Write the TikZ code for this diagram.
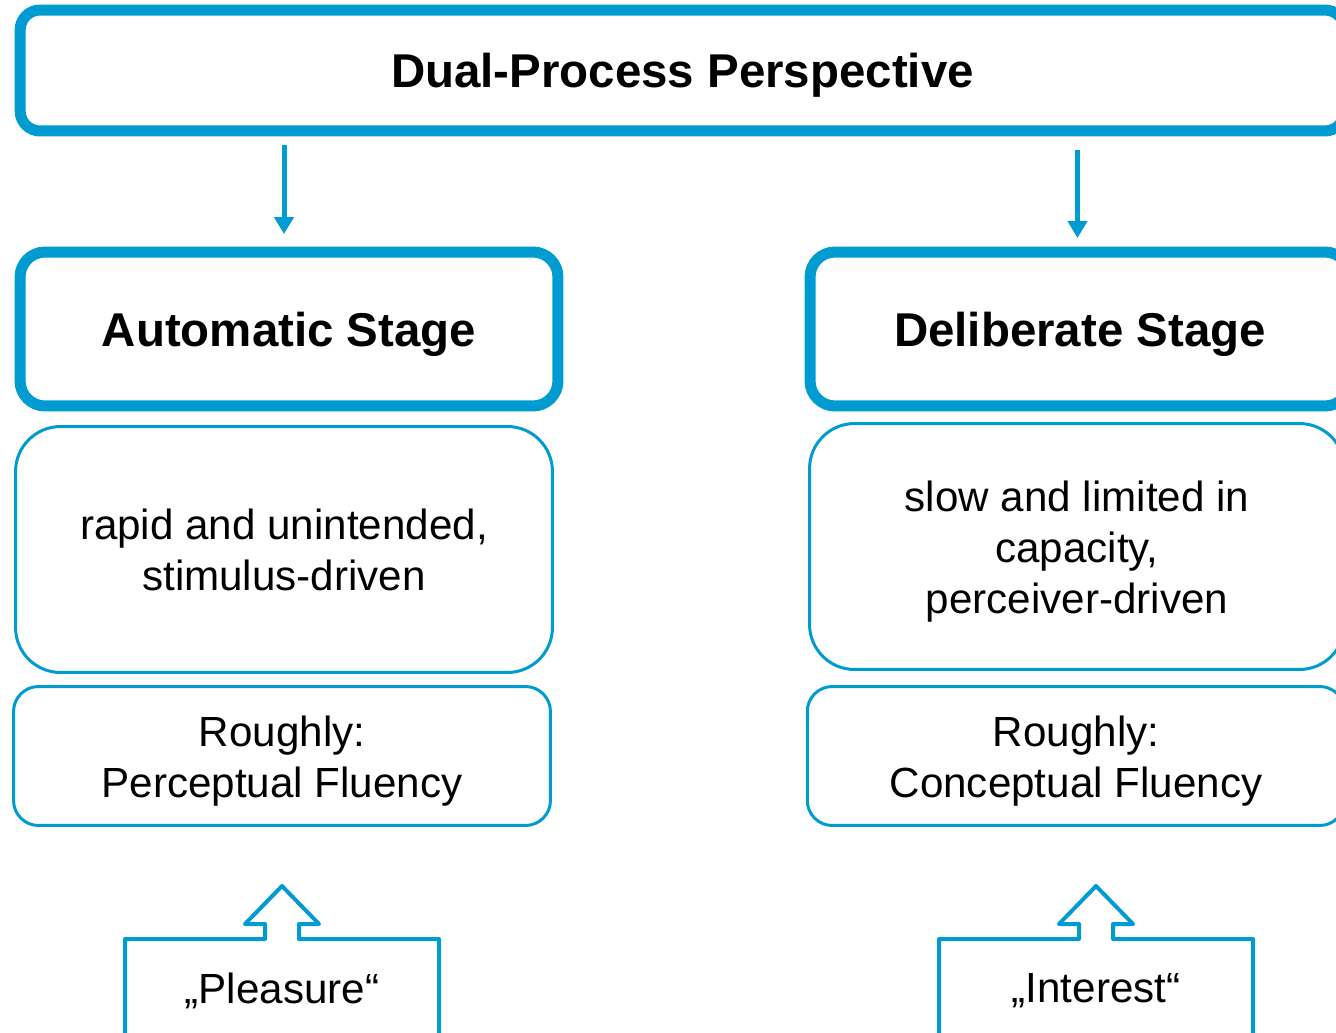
\documentclass[tikz,border=0pt]{standalone}
\usepackage{fontspec}
\setmainfont{Liberation Sans}
\usepackage{xcolor}
\usetikzlibrary{positioning,arrows.meta,calc}
\definecolor{dpblue}{RGB}{0,156,209}
% taller first line, pushes the block of text down a little
\newcommand{\topstrut}{\rule{0pt}{23pt}}
\tikzset{
  titlebox/.style={rectangle, rounded corners=0.4cm, draw=dpblue, line width=0.22cm,
    align=center, font=\fontsize{27}{32}\selectfont\bfseries, text depth=0pt},
  stagebox/.style={rectangle, rounded corners=0.5cm, draw=dpblue, line width=0.22cm,
    align=center, font=\fontsize{27}{32}\selectfont\bfseries, text depth=0pt, minimum height=3.08cm},
  descbox/.style={rectangle, rounded corners=0.9cm, draw=dpblue, line width=0.06cm,
    align=center, font=\fontsize{24}{29}\selectfont, minimum height=4.92cm},
  fluency/.style={rectangle, rounded corners=0.5cm, draw=dpblue, line width=0.06cm,
    align=center, font=\fontsize{24}{29}\selectfont, minimum height=2.78cm},
  cuetext/.style={font=\fontsize{24}{29}\selectfont},
  cue/.style={draw=dpblue, line width=0.08cm, line join=round},
  flow/.style={-{Triangle[length=0.34cm,width=0.38cm]}, draw=dpblue, line width=0.1cm},
}
\begin{document}
\begin{tikzpicture}[x=0.02cm, y=-0.02cm]
\useasboundingbox (0,0) rectangle (1336,1032);
\clip (0,0) rectangle (1336,1032);
% header
\node[titlebox, minimum width=26.5cm, minimum height=2.42cm] (persp) at (682.5,70.5) {Dual-Process Perspective};
% the two stages
\node[stagebox, minimum width=10.76cm] (auto) at (289,329) {Automatic Stage};
\node[stagebox, minimum width=10.8cm] (delib) at (1080,329) {Deliberate Stage};
\node[descbox, minimum width=10.74cm] (rapid) at (284,549.5) {rapid and unintended,\\stimulus-driven};
\node[descbox, minimum width=10.7cm] (slow) at (1077,546.5)
  {\topstrut slow and limited in\\capacity,\\perceiver-driven};
\node[fluency, minimum width=10.74cm] (percept) at (282,756) {\topstrut Roughly:\\Perceptual Fluency};
\node[fluency, minimum width=10.75cm] (concept) at (1076,756) {\topstrut Roughly:\\Conceptual Fluency};
\draw[flow, shorten <=0.17cm, shorten >=0.25cm] ([xshift=-0.1cm]persp.south -| auto.north) -- ([xshift=-0.1cm]auto.north);
\draw[flow, shorten <=0.27cm, shorten >=0.17cm] ([xshift=-0.05cm]persp.south -| delib.north) -- ([xshift=-0.05cm]delib.north);
% boxes with an open arrow pointing up
\foreach \n/\cx/\txt in {pleasure/282/„Pleasure“, interest/1096/„Interest“} {
  \node[cuetext] (\n) at (\cx,991) {\txt};
  \draw[cue] ($(\n)+(-157,54)$) -- ($(\n)+(-157,-52)$) -- ($(\n)+(-17,-52)$)
    -- ($(\n)+(-17,-67)$) -- ($(\n)+(-37,-67)$) -- ($(\n)+(0,-105)$)
    -- ($(\n)+(37,-67)$) -- ($(\n)+(17,-67)$) -- ($(\n)+(17,-52)$)
    -- ($(\n)+(157,-52)$) -- ($(\n)+(157,54)$);
}
\end{tikzpicture}
\end{document}
